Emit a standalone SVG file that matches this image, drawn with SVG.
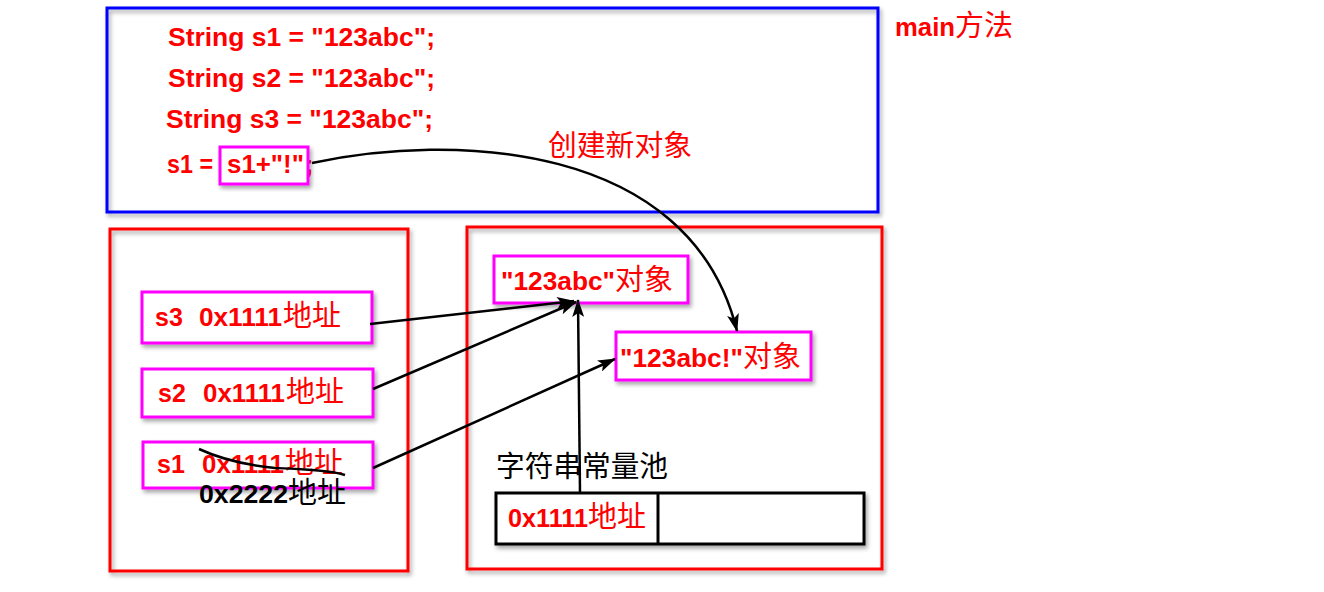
<svg xmlns="http://www.w3.org/2000/svg" width="1324" height="592" viewBox="0 0 1324 592">
<style>
.lat{font-family:"Liberation Sans","Noto Sans CJK SC",sans-serif;font-weight:bold;font-size:25px;fill:#ff0000}
.cjk{font-family:"Noto Sans CJK SC","Liberation Sans",sans-serif;font-weight:normal;font-size:29px}
.red{fill:#ff0000}
.blk{fill:#000}
.box{fill:none;stroke-width:3;filter:url(#sh)}
.mag{fill:#fff;stroke:#ff00ff;stroke-width:3;filter:url(#sh)}
.con{fill:none;stroke:#000;stroke-width:2.5}
</style>
<defs>
<filter id="sh" x="-10%" y="-10%" width="120%" height="130%">
<feDropShadow dx="2" dy="3" stdDeviation="2" flood-color="#000" flood-opacity="0.35"/>
</filter>
<marker id="ah" viewBox="0 0 18 12" refX="17" refY="6" markerWidth="18" markerHeight="12" markerUnits="userSpaceOnUse" orient="auto">
<path d="M0,0 L18,6 L0,12 L4,6 z" fill="#000"/>
</marker>
</defs>
<rect width="1324" height="592" fill="#fff"/>

<g id="main-box">
<rect class="box" x="107" y="8" width="771" height="204" stroke="#0000ff"/>
<text class="lat" x="168" y="46" textLength="267" lengthAdjust="spacingAndGlyphs">String s1 = "123abc";</text>
<text class="lat" x="168" y="87" textLength="267" lengthAdjust="spacingAndGlyphs">String s2 = "123abc";</text>
<text class="lat" x="166" y="128" textLength="267" lengthAdjust="spacingAndGlyphs">String s3 = "123abc";</text>
<text class="lat" x="167" y="173" textLength="46" lengthAdjust="spacingAndGlyphs">s1 =</text>
<text class="lat" x="305" y="173">;</text>
</g>
<g id="main-label">
<text x="895" y="36"><tspan class="lat" textLength="60" lengthAdjust="spacingAndGlyphs">main</tspan><tspan class="cjk red">方法</tspan></text>
</g>
<g id="expr">
<rect class="mag" x="220" y="147" width="88" height="37"/>
<text class="lat" x="227" y="173" textLength="77" lengthAdjust="spacingAndGlyphs">s1+"!"</text>
</g>

<g id="stack">
<rect class="box" x="110" y="229" width="298" height="342" stroke="#ff0000"/>
</g>
<g id="heap">
<rect class="box" x="467" y="227" width="415" height="342" stroke="#ff0000"/>
</g>

<g id="s3">
<rect class="mag" x="142" y="292" width="230" height="51"/>
<text class="lat" x="155" y="326">s3</text>
<text class="lat" x="199" y="326" textLength="83" lengthAdjust="spacingAndGlyphs">0x1111</text>
<text class="cjk red" x="283" y="326">地址</text>
</g>
<g id="s2">
<rect class="mag" x="142" y="369" width="231" height="48"/>
<text class="lat" x="158" y="402">s2</text>
<text class="lat" x="203" y="402" textLength="82" lengthAdjust="spacingAndGlyphs">0x1111</text>
<text class="cjk red" x="286" y="402">地址</text>
</g>
<g id="s1">
<rect class="mag" x="143" y="442" width="230" height="46"/>
<text class="lat" x="157" y="473">s1</text>
<text class="lat" x="202" y="473" textLength="82" lengthAdjust="spacingAndGlyphs">0x1111</text>
<text class="cjk red" x="285" y="473">地址</text>
<path d="M199,449 C225,461 255,466 275,468 C300,469 330,470 345,475" fill="none" stroke="#000" stroke-width="2.5"/>
<text x="199" y="503"><tspan class="lat blk" textLength="89" lengthAdjust="spacingAndGlyphs">0x2222</tspan><tspan class="cjk blk">地址</tspan></text>
</g>

<g id="obj1">
<rect class="mag" x="494" y="256" width="194" height="47"/>
<text x="501" y="290"><tspan class="lat" textLength="114" lengthAdjust="spacingAndGlyphs">"123abc"</tspan><tspan class="cjk red">对象</tspan></text>
</g>
<g id="obj2">
<rect class="mag" x="616" y="332" width="195" height="48"/>
<text x="620" y="367"><tspan class="lat" textLength="123" lengthAdjust="spacingAndGlyphs">"123abc!"</tspan><tspan class="cjk red">对象</tspan></text>
</g>

<g id="pool">
<text class="cjk blk" x="496" y="477" textLength="172" lengthAdjust="spacingAndGlyphs">字符串常量池</text>
<rect x="496" y="493" width="368" height="51" fill="#fff" stroke="#000" stroke-width="3" filter="url(#sh)"/>
<line x1="658" y1="493" x2="658" y2="544" stroke="#000" stroke-width="3"/>
<text x="508" y="527"><tspan class="lat" textLength="80" lengthAdjust="spacingAndGlyphs">0x1111</tspan><tspan class="cjk red">地址</tspan></text>
</g>

<g id="new-label">
<text class="cjk red" x="548" y="156" textLength="144" lengthAdjust="spacingAndGlyphs">创建新对象</text>
</g>

<g id="connectors">
<path class="con" d="M312,163 C450,133 690,140 737,331" marker-end="url(#ah)"/>
<line class="con" x1="370" y1="324" x2="574" y2="301" marker-end="url(#ah)"/>
<line class="con" x1="373" y1="389" x2="576" y2="302" marker-end="url(#ah)"/>
<line class="con" x1="373" y1="468" x2="615" y2="359" marker-end="url(#ah)"/>
<line class="con" x1="580" y1="493" x2="578" y2="300" marker-end="url(#ah)"/>
</g>
</svg>
